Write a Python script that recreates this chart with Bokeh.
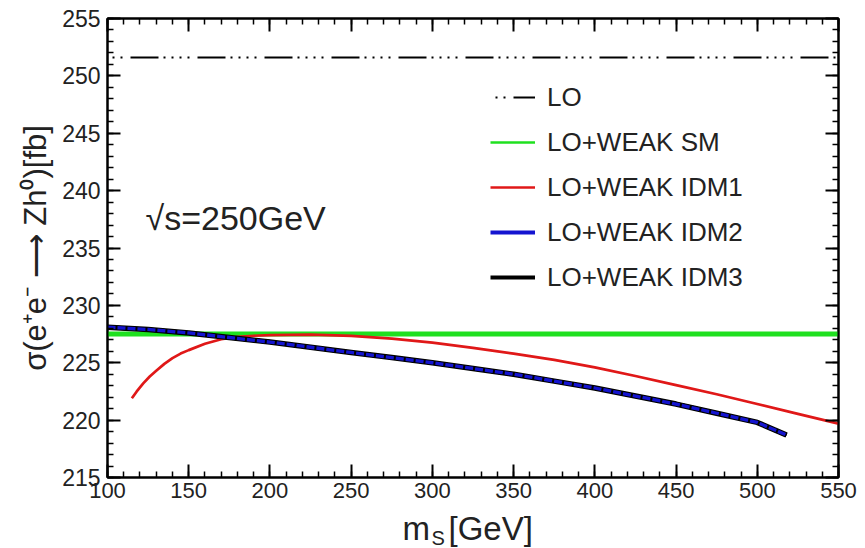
from bokeh.plotting import figure
from bokeh.layouts import column
from bokeh.models import (Range1d, LinearAxis, SingleIntervalTicker, Legend,
                          LegendItem, Label, CustomJSTickFormatter)
from bokeh.embed import file_html
from bokeh.resources import INLINE

# ---------------- data ----------------
ms_lo = [100, 550]
sigma_lo = [251.6, 251.6]

ms_sm = [100, 550]
sigma_sm = [227.5, 227.5]

ms_idm1 = [115, 118, 122, 126, 130, 135, 140, 145, 150, 160, 170, 180, 190, 200,
           225, 250, 275, 300, 325, 350, 375, 400, 425, 450, 475, 500, 525, 550]
sigma_idm1 = [221.9, 222.5, 223.2, 223.8, 224.3, 224.9, 225.4, 225.8, 226.1, 226.65,
              227.05, 227.25, 227.35, 227.4, 227.45, 227.35, 227.1, 226.75, 226.3,
              225.8, 225.25, 224.6, 223.85, 223.05, 222.25, 221.4, 220.55, 219.7]

ms_idm2 = [100, 125, 150, 175, 200, 225, 250, 275, 300, 325, 350, 375, 400,
           425, 450, 475, 500, 518]
sigma_idm2 = [228.1, 227.9, 227.6, 227.2, 226.8, 226.35, 225.9, 225.45, 225.0,
              224.5, 224.0, 223.4, 222.8, 222.1, 221.4, 220.6, 219.8, 218.7]

ms_idm3 = [100, 125, 150, 175, 200, 225, 250, 275, 300, 325, 350, 375, 400,
           425, 450, 475, 500, 518]
sigma_idm3 = [228.1, 227.9, 227.6, 227.2, 226.8, 226.35, 225.9, 225.45, 225.0,
              224.5, 224.0, 223.4, 222.8, 222.1, 221.4, 220.6, 219.8, 218.7]

legend_labels = ["LO", "LO+WEAK SM", "LO+WEAK IDM1", "LO+WEAK IDM2", "LO+WEAK IDM3"]
x_range = (100, 550)
y_range = (215, 255)
energy_text = "\u221as=250GeV"
y_title = "\u03c3(e\u207ae\u207b \u27f6 Zh\u2070)[fb]"
x_title_parts = ["m", "S", "[GeV]"]

FONT = "Liberation Sans"
TXT = "#222222"
GREEN = "#1fe01f"
RED = "#e01818"
BLUE = "#1414d0"
LO_DASH = "28 5 2 6 2 6 2 6 2 8"

p = figure(frame_width=731, frame_height=459,
           x_range=Range1d(*x_range), y_range=Range1d(*y_range),
           output_backend="svg", toolbar_location=None,
           min_border_left=107, min_border_top=18, min_border_right=20,
           min_border_bottom=31, background_fill_color="white",
           border_fill_color="white")
p.xgrid.visible = False
p.ygrid.visible = False
p.outline_line_color = "black"
p.outline_line_width = 2

blank = CustomJSTickFormatter(code="return ''")
top = LinearAxis(formatter=blank)
right = LinearAxis(formatter=blank)
p.add_layout(top, "above")
p.add_layout(right, "right")

bottom = p.below[0]
left = p.left[0]
for ax in (bottom, top):
    ax.ticker = SingleIntervalTicker(interval=50, num_minor_ticks=5)
for ax in (left, right):
    ax.ticker = SingleIntervalTicker(interval=5, num_minor_ticks=5)
for ax in (bottom, top, left, right):
    ax.axis_line_color = "black"
    ax.axis_line_width = 2
    ax.major_tick_in = 13
    ax.major_tick_out = 0
    ax.minor_tick_in = 6
    ax.minor_tick_out = 0
    ax.major_tick_line_width = 2
    ax.minor_tick_line_width = 1.5
    ax.major_tick_line_color = "black"
    ax.minor_tick_line_color = "black"
    ax.major_label_text_font = FONT
    ax.major_label_text_font_size = "23px"
    ax.major_label_text_color = TXT
for ax in (top, right):
    ax.major_label_standoff = 0
bottom.major_label_text_font_size = "22px"
bottom.major_label_standoff = 5
left.major_label_standoff = 7

left.axis_label = y_title
left.axis_label_text_font = FONT
left.axis_label_text_font_size = "31px"
left.axis_label_text_font_style = "normal"
left.axis_label_text_color = TXT
left.axis_label_standoff = 6

# ---------------- curves ----------------
r_lo = p.line(ms_lo, sigma_lo, line_color="black", line_width=2,
              line_dash=LO_DASH, line_dash_offset=44)
l_sm = p.line(ms_sm, sigma_sm, line_color=GREEN, line_width=2.5)   # legend sample (hidden below)
r_sm = p.line(ms_sm, sigma_sm, line_color=GREEN, line_width=5)
l_1 = p.line(ms_idm1, sigma_idm1, line_color=RED, line_width=4, line_alpha=0.0001)
r_1 = p.line(ms_idm1, sigma_idm1, line_color=RED, line_width=2.7)
l_2 = p.line(ms_idm2, sigma_idm2, line_color=BLUE, line_width=4)   # legend sample (hidden below)
l_3 = p.line(ms_idm3, sigma_idm3, line_color="black", line_width=4)  # legend sample (hidden below)
r_3 = p.line(ms_idm3, sigma_idm3, line_color="black", line_width=5.5)
r_2 = p.line(ms_idm2, sigma_idm2, line_color=BLUE, line_width=3.3, line_dash="8 2")

legend = Legend(items=[LegendItem(label=legend_labels[i], renderers=[r])
                       for i, r in enumerate([r_lo, l_sm, r_1, l_2, l_3])],
                location=(383, 180), padding=0, margin=0, spacing=5,
                glyph_width=45, glyph_height=40, label_height=40,
                label_standoff=12, label_text_font=FONT,
                label_text_font_size="26px", label_text_color=TXT,
                background_fill_alpha=0, border_line_alpha=0)
p.add_layout(legend)

p.add_layout(Label(x=38, y=241, x_units="screen", y_units="screen",
                   text=energy_text, text_font=FONT, text_font_size="34px",
                   text_color=TXT, text_baseline="bottom"))

# ---------------- x-axis title strip: m_S[GeV] ----------------
p2 = figure(width=858, height=40, x_range=Range1d(0, 1), y_range=Range1d(0, 1),
            x_axis_location=None, y_axis_location=None, min_border=0,
            toolbar_location=None, output_backend="svg",
            outline_line_color=None, background_fill_color="white",
            border_fill_color="white")
p2.grid.visible = False
p2.add_layout(Label(x=295, y=2, x_units="screen", y_units="screen",
                    text=x_title_parts[0], text_font=FONT, text_font_size="33px",
                    text_color=TXT, text_baseline="bottom"))
p2.add_layout(Label(x=324, y=0, x_units="screen", y_units="screen",
                    text=x_title_parts[1], text_font=FONT, text_font_size="20px",
                    text_color=TXT, text_baseline="bottom"))
p2.add_layout(Label(x=341, y=2, x_units="screen", y_units="screen",
                    text=x_title_parts[2], text_font=FONT, text_font_size="33px",
                    text_color=TXT, text_baseline="bottom"))

layout = column(p, p2, spacing=0)
open("out.html", "w").write(file_html(layout, INLINE))
